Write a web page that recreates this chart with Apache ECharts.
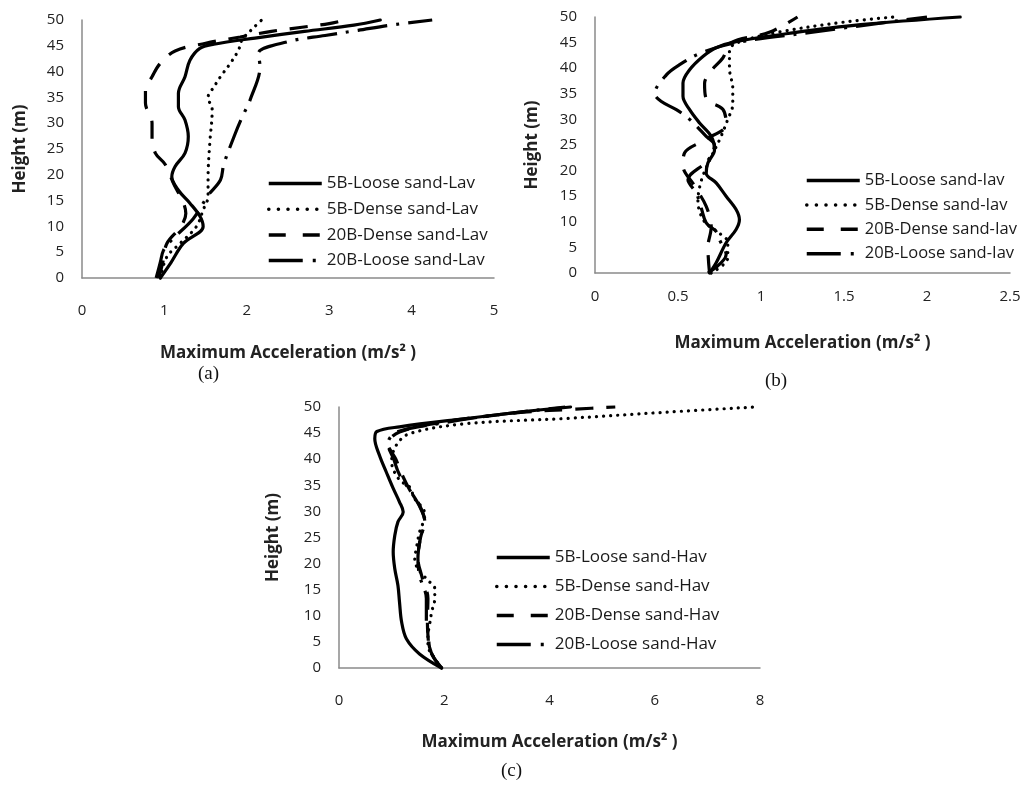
<!DOCTYPE html>
<html><head><meta charset="utf-8">
<script src="https://cdn.jsdelivr.net/npm/echarts@6/dist/echarts.min.js"></script>
<style>html,body{margin:0;padding:0;background:#fff}#c{width:1024px;height:789px}</style>
</head><body><div id="c"></div>
<script>
// ---------- Panel (a): Lav ----------
const hA_L5 = [0, 3, 6.7, 10, 12, 14.5, 17, 19.6, 21.6, 24.2, 27.4, 30.6, 33.2, 35.8, 39, 42.2, 44.5, 45.3, 46.5, 47.8, 49, 50];
const aA_L5 = [0.95, 1.08, 1.23, 1.47, 1.43, 1.31, 1.17, 1.09, 1.13, 1.25, 1.29, 1.25, 1.17, 1.17, 1.25, 1.31, 1.43, 1.6, 2.1, 2.7, 3.3, 3.62];
const hA_D5 = [0, 4.1, 6.7, 10, 13.2, 15.8, 19.6, 26, 32.6, 35, 37, 39, 41.6, 44.2, 46.1, 48, 50];
const aA_D5 = [0.95, 1.03, 1.19, 1.39, 1.47, 1.53, 1.53, 1.55, 1.58, 1.53, 1.60, 1.68, 1.80, 1.90, 1.94, 2.05, 2.18];
const hA_D20 = [0, 3, 6.7, 10, 12.5, 15, 18, 22, 24.2, 27.4, 30, 33.9, 36.4, 39, 41.6, 44, 45.5, 46.7, 47.8, 48.6, 49.3, 50];
const aA_D20 = [0.93, 0.98, 1.03, 1.2, 1.26, 1.22, 1.12, 1.01, 0.89, 0.85, 0.85, 0.77, 0.77, 0.85, 0.95, 1.13, 1.5, 1.92, 2.3, 2.67, 3.0, 3.2];
const hA_L20 = [0, 3, 5.4, 7.4, 11.5, 16, 19, 22, 28, 31.4, 34.5, 41, 43.5, 45.8, 47, 48, 49, 50];
const aA_L20 = [0.9, 0.95, 0.99, 1.09, 1.35, 1.53, 1.68, 1.72, 1.86, 1.95, 2.04, 2.16, 2.14, 2.5, 2.95, 3.35, 3.74, 4.25];

// ---------- Panel (b): Iav ----------
const hB_L5 = [0, 2, 5.9, 8.5, 10.4, 12.4, 15, 17.6, 19.5, 21.5, 24, 26.7, 29.3, 31.9, 34.5, 37.1, 39.7, 42.3, 44, 45.2, 46.9, 48.5, 50];
const aB_L5 = [0.69, 0.73, 0.79, 0.85, 0.87, 0.85, 0.79, 0.73, 0.67, 0.68, 0.72, 0.70, 0.63, 0.57, 0.53, 0.53, 0.57, 0.65, 0.73, 0.85, 1.19, 1.6, 2.2];
const hB_D5 = [0, 3, 6, 8, 10, 14, 18, 22, 26, 30, 33, 36, 40, 43.5, 45, 47, 49, 50];
const aB_D5 = [0.7, 0.8, 0.8, 0.74, 0.66, 0.62, 0.64, 0.69, 0.75, 0.8, 0.83, 0.83, 0.81, 0.81, 0.86, 1.1, 1.5, 1.8];
const hB_D20 = [0, 5, 9, 13, 17, 21, 23.5, 26, 29, 32, 34, 37, 39.5, 42, 45, 47, 50];
const aB_D20 = [0.69, 0.68, 0.70, 0.67, 0.60, 0.53, 0.54, 0.66, 0.79, 0.77, 0.67, 0.66, 0.70, 0.77, 0.82, 1.05, 1.22];
const hB_L20 = [0, 3.6, 6.5, 8.1, 9.8, 12.7, 15.6, 18.2, 22, 25, 26.7, 30, 31.9, 33.5, 35, 38.7, 40.7, 43, 45, 47, 50];
const aB_L20 = [0.68, 0.79, 0.75, 0.73, 0.67, 0.64, 0.61, 0.56, 0.68, 0.72, 0.67, 0.57, 0.49, 0.40, 0.36, 0.43, 0.51, 0.64, 0.85, 1.3, 2.0];

// ---------- Panel (c): Hav ----------
const hC_L5 = [0, 2.7, 5.6, 8.8, 12.6, 15.8, 19, 22.2, 25.4, 28, 29.9, 31.8, 34.4, 37.5, 40.7, 43.9, 45.3, 46.2, 47.8, 49.2, 50];
const aC_L5 = [1.95, 1.53, 1.28, 1.19, 1.15, 1.12, 1.06, 1.03, 1.06, 1.12, 1.22, 1.15, 1.03, 0.90, 0.77, 0.68, 0.72, 1.15, 2.42, 3.6, 4.4];
const hC_D5 = [0, 1.8, 4.3, 6.3, 8.2, 10.7, 13.3, 15.2, 16.8, 19, 20.9, 22.9, 26, 29.2, 30.5, 32.4, 34.7, 36, 39.5, 42.7, 44.9, 46.8, 47.8, 49, 50];
const aC_D5 = [1.95, 1.82, 1.69, 1.69, 1.72, 1.76, 1.82, 1.82, 1.69, 1.5, 1.44, 1.47, 1.53, 1.63, 1.6, 1.44, 1.34, 1.15, 1.0, 1.09, 1.34, 2.42, 4.3, 6.2, 7.9];
const hC_D20 = [0, 2, 3.7, 6.3, 9, 13.3, 17.7, 21, 25, 28, 31.8, 34, 37, 40, 43, 45.2, 47, 48, 49, 49.6, 50];
const aC_D20 = [1.95, 1.8, 1.72, 1.69, 1.68, 1.69, 1.57, 1.5, 1.55, 1.63, 1.5, 1.35, 1.2, 1.08, 0.93, 1.15, 1.9, 2.6, 3.5, 4.5, 5.25];
const hC_L20 = [0, 2, 4, 6.3, 9, 13.3, 17.7, 21, 25, 28, 31, 34, 37, 40, 43, 45.2, 47, 48.5, 50];
const aC_L20 = [1.95, 1.8, 1.72, 1.7, 1.66, 1.66, 1.53, 1.5, 1.55, 1.63, 1.53, 1.35, 1.15, 1.04, 0.93, 1.1, 2.0, 3.0, 4.3];

const namesA = ['5B-Loose sand-Lav', '5B-Dense sand-Lav', '20B-Dense sand-Lav', '20B-Loose sand-Lav'];
const namesB = ['5B-Loose sand-Iav', '5B-Dense sand-Iav', '20B-Dense sand-Iav', '20B-Loose sand-Iav'];
const namesC = ['5B-Loose sand-Hav', '5B-Dense sand-Hav', '20B-Dense sand-Hav', '20B-Loose sand-Hav'];
const xTitle = 'Maximum Acceleration (m/s² )';
const yTitle = 'Height (m)';

const styles = [
  {type: 'solid', width: 3.2, cap: 'round'},
  {type: [0.1, 7], width: 3.2, cap: 'round'},
  {type: [18, 13], width: 3.2, cap: 'butt'},
  {type: [30, 9, 3, 9], width: 3.2, cap: 'butt'}
];
const legendStyles = [
  {type: 'solid', width: 3.5, cap: 'butt'},
  {type: [0.1, 9.5], width: 3.5, cap: 'round'},
  {type: [17, 17], width: 3.5, cap: 'butt'},
  {type: [34, 10, 3, 12], width: 3.5, cap: 'butt'}
];

const zip = (a, h) => a.map((v, i) => [v, h[i]]);
const FONT = "'Open Sans', 'Noto Sans', sans-serif";

const grids = [
  {left: 82, top: 20, width: 412, height: 258},
  {left: 595, top: 17, width: 415, height: 256},
  {left: 339, top: 407, width: 421, height: 261}
];
const xCfg = [
  {max: 5, interval: 1, margin: 25, gap: 67},
  {max: 2.5, interval: 0.5, margin: 16, gap: 62},
  {max: 8, interval: 2, margin: 25, gap: 66}
];
const yGap = [53, 54, 57];

function series(names, pairs, idx) {
  return names.map((n, i) => ({
    name: n, type: 'line', xAxisIndex: idx, yAxisIndex: idx,
    data: zip(pairs[i][0], pairs[i][1]),
    symbol: 'none', smooth: 0.35, clip: false,
    itemStyle: {color: '#000'},
    lineStyle: Object.assign({color: '#000'}, styles[i])
  }));
}

const allSeries = [].concat(
  series(namesA, [[aA_L5, hA_L5], [aA_D5, hA_D5], [aA_D20, hA_D20], [aA_L20, hA_L20]], 0),
  series(namesB, [[aB_L5, hB_L5], [aB_D5, hB_D5], [aB_D20, hB_D20], [aB_L20, hB_L20]], 1),
  series(namesC, [[aC_L5, hC_L5], [aC_D5, hC_D5], [aC_D20, hC_D20], [aC_L20, hC_L20]], 2)
);

function legend(names, left, top, gap, fs) {
  return {
    orient: 'vertical', left: left, top: top, padding: 0,
    itemWidth: 53, itemHeight: 14, itemGap: gap,
    textStyle: {fontFamily: FONT, fontSize: fs, color: '#1a1a1a', lineHeight: 14},
    itemStyle: {opacity: 0},
    data: names.map((n, i) => ({name: n, itemStyle: {opacity: 0}, lineStyle: Object.assign({color: '#000'}, legendStyles[i])})),
    selectedMode: false
  };
}

const axisLine = {show: true, lineStyle: {color: '#8a8a8a', width: 1.5}};

const option = {
  animation: false,
  backgroundColor: '#fff',
  grid: grids,
  xAxis: xCfg.map((c, i) => ({
    type: 'value', gridIndex: i, min: 0, max: c.max, interval: c.interval,
    axisLine: axisLine, axisTick: {show: false}, splitLine: {show: false},
    axisLabel: {margin: c.margin, fontFamily: FONT, fontSize: 15, color: '#222'},
    name: xTitle, nameLocation: 'middle', nameGap: c.gap,
    nameTextStyle: {fontFamily: FONT, fontSize: 17, fontWeight: 'bold', color: '#222'}
  })),
  yAxis: grids.map((g, i) => ({
    type: 'value', gridIndex: i, min: 0, max: 50, interval: 5,
    axisLine: axisLine, axisTick: {show: false}, splitLine: {show: false},
    axisLabel: {margin: 18, fontFamily: FONT, fontSize: 15, color: '#222'},
    name: yTitle, nameLocation: 'middle', nameGap: yGap[i], nameRotate: 90,
    nameTextStyle: {fontFamily: FONT, fontSize: 17, fontWeight: 'bold', color: '#222'}
  })),
  legend: [
    legend(namesA, 267, 175, 8.7, 17),
    legend(namesB, 805, 172, 7.4, 16.5),
    legend(namesC, 495, 549, 12, 17)
  ],
  graphic: [
    {type: 'text', left: 198, top: 365, style: {text: '(a)', font: "19px 'Liberation Serif', serif", fill: '#111'}},
    {type: 'text', left: 765, top: 372, style: {text: '(b)', font: "19px 'Liberation Serif', serif", fill: '#111'}},
    {type: 'text', left: 501, top: 762, style: {text: '(c)', font: "19px 'Liberation Serif', serif", fill: '#111'}}
  ],
  series: allSeries
};

const chart = echarts.init(document.getElementById('c'), null, {renderer: 'canvas'});
chart.setOption(option);
</script>
</body></html>
